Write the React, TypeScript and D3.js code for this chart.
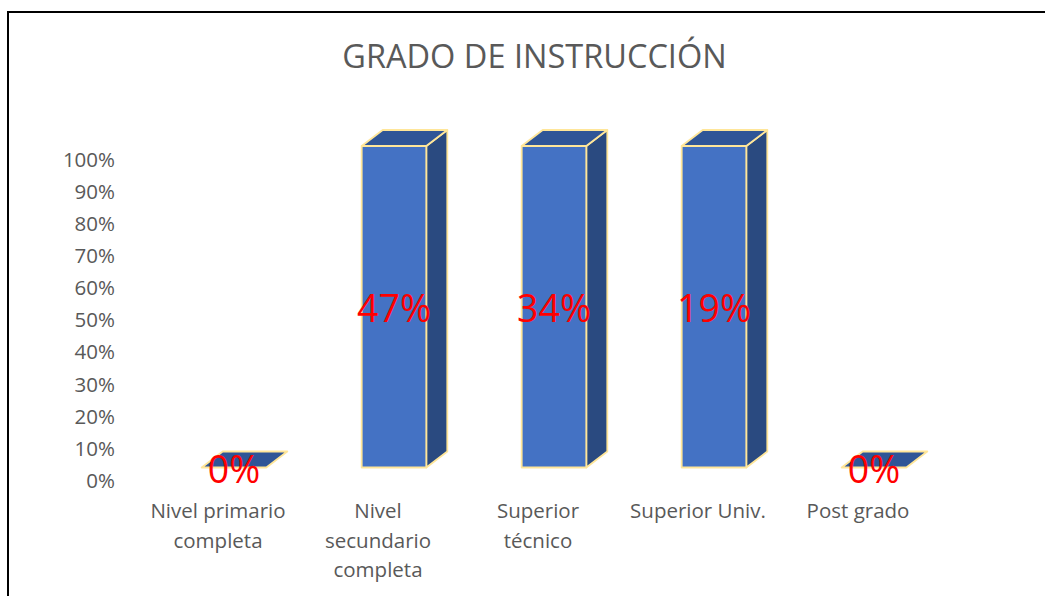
import React from "react";
import * as d3 from "d3";

const title = "GRADO DE INSTRUCCIÓN";
const categories = [
  "Nivel primario completa",
  "Nivel secundario completa",
  "Superior técnico",
  "Superior Univ.",
  "Post grado",
];
const values = [0, 0.47, 0.34, 0.19, 0];
const yTicks = [0, 0.1, 0.2, 0.3, 0.4, 0.5, 0.6, 0.7, 0.8, 0.9, 1];

const W = 1045;
const H = 596;
const FONT = "'Open Sans', 'Noto Sans', sans-serif";
const AXIS_FS = 20.5;

const colors = {
  front: "#4472C4",
  top: "#2F5597",
  side: "#2A4A80",
  edge: "#FFE699",
  text: "#595959",
  label: "#FF0000",
};

function wrap(text: string, maxW: number, font: string): string[] {
  const canvas = document.createElement("canvas");
  const ctx = canvas.getContext("2d")!;
  ctx.font = font;
  const words = text.split(" ");
  const lines: string[] = [];
  let cur = "";
  for (const w of words) {
    const t = cur ? cur + " " + w : w;
    if (cur && ctx.measureText(t).width > maxW) {
      lines.push(cur);
      cur = w;
    } else cur = t;
  }
  if (cur) lines.push(cur);
  return lines;
}

export default function App() {
  // 100% stacked single series (as in the source chart)
  const rows = categories.map((c, i) => ({ cat: c, v: values[i] }));
  const stacked = d3
    .stack<{ cat: string; v: number }>()
    .keys(["v"])
    .value((d) => d.v)
    .offset(d3.stackOffsetExpand)(rows as any);
  const series = stacked[0];

  const x = d3.scaleBand<string>().domain(categories).range([138, 938]).padding(0);
  const y = d3.scaleLinear().domain([0, 1]).range([467.5, 146]);
  const fmt = d3.format(".0%");

  const barW = 64.6;
  const barOffset = 16;
  const dx = 21;
  const dy = -16;

  const catFont = `${AXIS_FS}px 'Open Sans'`;

  return (
    <svg
      width={W}
      height={H}
      style={{ position: "absolute", left: 0, top: 0, background: "#fff" }}
      fontFamily={FONT}
    >
      <rect x={0} y={0} width={W} height={H} fill="#fff" />
      <rect x={8} y={12} width={1200} height={800} fill="none" stroke="#000" strokeWidth={2} />

      <text
        x={534.5}
        y={68}
        textAnchor="middle"
        fontSize={32.5}
        fill={colors.text}
      >
        {title}
      </text>

      {yTicks.map((t) => (
        <text
          key={t}
          x={115}
          y={y(t) + 20.5}
          textAnchor="end"
          fontSize={AXIS_FS}
          fill={colors.text}
        >
          {fmt(t)}
        </text>
      ))}

      {series.map((s, i) => {
        const cat = categories[i];
        const cx = x(cat)! + x.bandwidth() / 2 + barOffset;
        const x0 = cx - barW / 2;
        const x1 = cx + barW / 2;
        const yb = y(s[0]);
        const yt = y(s[1]);
        const front = `M${x0},${yb}L${x1},${yb}L${x1},${yt}L${x0},${yt}Z`;
        const side = `M${x1},${yb}L${x1 + dx},${yb + dy}L${x1 + dx},${yt + dy}L${x1},${yt}Z`;
        const top = `M${x0},${yt}L${x0 + dx},${yt + dy}L${x1 + dx},${yt + dy}L${x1},${yt}Z`;
        return (
          <g key={cat} stroke={colors.edge} strokeWidth={1.8} strokeLinejoin="round">
            {yb - yt > 0 && <path d={side} fill={colors.side} />}
            <path d={top} fill={colors.top} />
            {yb - yt > 0 && <path d={front} fill={colors.front} />}
          </g>
        );
      })}

      {series.map((s, i) => {
        const cat = categories[i];
        const cx = x(cat)! + x.bandwidth() / 2 + barOffset;
        const mid = (y(s[0]) + y(s[1])) / 2;
        return (
          <text
            key={cat}
            x={cx}
            y={mid + 15}
            textAnchor="middle"
            fontSize={37.5}
            fill={colors.label}
          >
            {fmt(values[i])}
          </text>
        );
      })}

      {categories.map((c) => {
        const lines = wrap(c, 148, catFont);
        const cx = x(c)! + x.bandwidth() / 2;
        return (
          <text key={c} textAnchor="middle" fontSize={AXIS_FS} fill={colors.text}>
            {lines.map((l, k) => (
              <tspan key={k} x={cx} y={518 + k * 29.5}>
                {l}
              </tspan>
            ))}
          </text>
        );
      })}
    </svg>
  );
}
